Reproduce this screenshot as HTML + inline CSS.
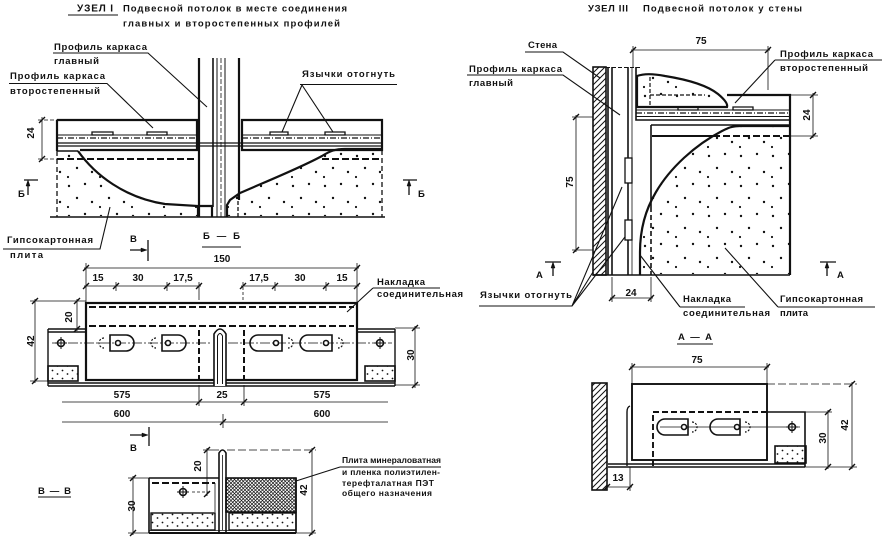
<!DOCTYPE html>
<html><head><meta charset="utf-8"><style>
html,body{margin:0;padding:0;background:#fff;}
svg{display:block;}
text{font-family:"Liberation Sans","DejaVu Sans",sans-serif;font-weight:bold;font-size:9.5px;fill:#111;}
.n{font-size:10px;}
.s{font-size:8.5px;}
</style></head><body>
<svg width="882" height="538" viewBox="0 0 882 538" xmlns="http://www.w3.org/2000/svg">
<defs>
<pattern id="dots" patternUnits="userSpaceOnUse" width="32" height="30">
<circle cx="5" cy="6" r="1.2" fill="#111"/><circle cx="21" cy="4" r="1.2" fill="#111"/>
<circle cx="13" cy="18" r="1.2" fill="#111"/><circle cx="28" cy="22" r="1.2" fill="#111"/>
<circle cx="4" cy="27" r="1.1" fill="#111"/>
</pattern>
<pattern id="dots2" patternUnits="userSpaceOnUse" width="10" height="8">
<circle cx="2.5" cy="2.5" r="0.9" fill="#111"/><circle cx="7.5" cy="6" r="0.9" fill="#111"/>
</pattern>
<pattern id="hatch" patternUnits="userSpaceOnUse" width="6" height="6">
<path d="M0,6 L6,0 M-1,1 L1,-1 M5,7 L7,5" stroke="#111" stroke-width="1"/>
</pattern>
<pattern id="cross" patternUnits="userSpaceOnUse" width="3.5" height="3.5">
<path d="M0,3.5 L3.5,0 M0,0 L3.5,3.5" stroke="#111" stroke-width="0.7"/>
</pattern>
</defs>
<rect width="882" height="538" fill="#fff"/>

<!-- ================= TEXT ================= -->
<text x="77" y="11.5" textLength="36" style="font-size:10px">УЗЕЛ I</text>
<text x="123" y="11.5" textLength="224">Подвесной потолок в месте соединения</text>
<text x="123" y="26.5" textLength="217">главных и второстепенных профилей</text>
<text x="54" y="50" textLength="93">Профиль каркаса</text>
<text x="54" y="64" textLength="45">главный</text>
<text x="10" y="79" textLength="95">Профиль каркаса</text>
<text x="10" y="94" textLength="90">второстепенный</text>
<text x="302" y="77" textLength="93">Язычки отогнуть</text>
<text x="18" y="197">Б</text>
<text x="418" y="197">Б</text>
<text x="7" y="243" textLength="86">Гипсокартонная</text>
<text x="10" y="258" textLength="33">плита</text>
<text x="130" y="242">В</text>
<text x="203" y="239" textLength="37">Б — Б</text>
<text x="377" y="285" textLength="48">Накладка</text>
<text x="377" y="297" textLength="86">соединительная</text>
<text class="n" x="222" y="262" text-anchor="middle">150</text>
<text class="n" x="98" y="281" text-anchor="middle">15</text>
<text class="n" x="138" y="281" text-anchor="middle">30</text>
<text class="n" x="183" y="281" text-anchor="middle">17,5</text>
<text class="n" x="259" y="281" text-anchor="middle">17,5</text>
<text class="n" x="300" y="281" text-anchor="middle">30</text>
<text class="n" x="342" y="281" text-anchor="middle">15</text>
<text class="n" transform="translate(34,341) rotate(-90)" text-anchor="middle">42</text>
<text class="n" transform="translate(72,317) rotate(-90)" text-anchor="middle">20</text>
<text class="n" transform="translate(414,355) rotate(-90)" text-anchor="middle">30</text>
<text class="n" transform="translate(34,133) rotate(-90)" text-anchor="middle">24</text>
<text class="n" x="122" y="398" text-anchor="middle">575</text>
<text class="n" x="222" y="398" text-anchor="middle">25</text>
<text class="n" x="322" y="398" text-anchor="middle">575</text>
<text class="n" x="122" y="417" text-anchor="middle">600</text>
<text class="n" x="322" y="417" text-anchor="middle">600</text>
<text x="130" y="451">В</text>
<text x="38" y="494" textLength="33">В — В</text>
<text class="n" transform="translate(201,466) rotate(-90)" text-anchor="middle">20</text>
<text class="n" transform="translate(135,506) rotate(-90)" text-anchor="middle">30</text>
<text class="n" transform="translate(307,490) rotate(-90)" text-anchor="middle">42</text>
<text class="s" x="342" y="463" textLength="99">Плита минераловатная</text>
<text class="s" x="342" y="475" textLength="98">и пленка полиэтилен-</text>
<text class="s" x="342" y="486" textLength="92">терефталатная ПЭТ</text>
<text class="s" x="342" y="496" textLength="90">общего назначения</text>

<text x="588" y="11.5" textLength="40">УЗЕЛ III</text>
<text x="643" y="11.5" textLength="159">Подвесной потолок  у стены</text>
<text x="528" y="48" textLength="29">Стена</text>
<text x="469" y="72" textLength="93">Профиль каркаса</text>
<text x="469" y="86" textLength="44">главный</text>
<text x="780" y="57" textLength="93">Профиль каркаса</text>
<text x="780" y="71" textLength="88">второстепенный</text>
<text class="n" x="701" y="44" text-anchor="middle">75</text>
<text class="n" transform="translate(810,115) rotate(-90)" text-anchor="middle">24</text>
<text class="n" transform="translate(573,182) rotate(-90)" text-anchor="middle">75</text>
<text x="536" y="278">А</text>
<text x="837" y="278">А</text>
<text class="n" x="631" y="296" text-anchor="middle">24</text>
<text x="480" y="298" textLength="92">Язычки отогнуть</text>
<text x="683" y="302" textLength="48">Накладка</text>
<text x="683" y="316" textLength="87">соединительная</text>
<text x="780" y="302" textLength="83">Гипсокартонная</text>
<text x="780" y="316" textLength="28">плита</text>
<text x="678" y="340" textLength="34">А — А</text>
<text class="n" x="697" y="363" text-anchor="middle">75</text>
<text class="n" transform="translate(826,438) rotate(-90)" text-anchor="middle">30</text>
<text class="n" transform="translate(848,425) rotate(-90)" text-anchor="middle">42</text>
<text class="n" x="618" y="481" text-anchor="middle">13</text>

<g stroke="#111" fill="none">
<!-- underlines & leaders -->
<g stroke-width="1.1">
<path d="M68,15 H118"/>
<path d="M53,53 H148 L207,107"/>
<path d="M9,83.5 H107 L153,128"/>
<path d="M300,84.5 H397 M302,85 L282,132 M302,85 L333,132"/>
<path d="M3,249 H100 L110,207"/>
<path d="M202,247 H241"/>
<path d="M373,288 H440 M373,288 L347,312"/>
<path d="M38,497 H71"/>
<path d="M340,467 H441 M340,467 L296,481"/>
<path d="M525,52 H563 L600,78"/>
<path d="M467,75 H563 L620,115"/>
<path d="M775,60 H882 M775,60 L735,103"/>
<path d="M479,306 H572 L622,187 M572,306 L628,233 M572,306 L593,272"/>
<path d="M680,307 H745 M680,307 L640,255"/>
<path d="M778,307 H875 M778,307 L725,248"/>
<path d="M677,344 H713"/>
</g>

<!-- ========== УЗЕЛ I drawing ========== -->
<path d="M58,152 H78 C95,175 125,198 165,204 L197,206 V216 H58 Z" fill="url(#dots)" stroke="none"/>
<path d="M228,216 V205 L240,193 C265,182 300,168 322,156 C330,151 335,149 345,149 H381 V216 Z" fill="url(#dots)" stroke="none"/>
<path d="M199,58 V217 M239,58 V200" stroke-width="2.2"/>
<path d="M213,58 V207" stroke-width="1.6"/>
<path d="M217,58 V217 M225,58 V217" stroke-width="1"/>
<path d="M221,58 V217" stroke-width="0.8" stroke-dasharray="5,2"/>
<path d="M57,120 H197 V150 H80 M57,120 V151" stroke-width="2.2"/>
<path d="M242,120 H382 V150 H242 Z" stroke-width="2.2"/>
<path d="M57,135 H197 M242,135 H382" stroke-width="1"/>
<path d="M57,138 H197 M242,138 H382" stroke-width="1.2" stroke-dasharray="6,2,1,2"/>
<path d="M57,143 H382 M57,146 H382" stroke-width="1.3"/>
<path d="M92,132 H113 V135 H92 Z M147,132 H167 V135 H147 Z M270,132 H288 V135 H270 Z M325,132 H345 V135 H325 Z" stroke-width="1.3" fill="#fff"/>
<path d="M57,159 H197 M322,159 H382" stroke-width="2" stroke-dasharray="7,3"/>
<path d="M57,151 V217 M382,150 V217" stroke-width="1.3" stroke-dasharray="5,3"/>
<path d="M50,217 H385" stroke-width="1.6"/>
<path d="M57,151 H78" stroke-width="1.6"/>
<path d="M78,151 C95,175 125,198 165,204 L198,206 V217 M198,206 H212 V217" stroke-width="2.2"/>
<path d="M227,217 V205 L230,200 L240,193 C265,182 300,168 322,156 C330,151 335,149 345,149 H382" stroke-width="2.2"/>
<path d="M238,195 V217" stroke-width="1.3" stroke-dasharray="4,2"/>
<!-- dim 24 -->
<path d="M42,117 V161" stroke-width="0.8"/>
<path d="M38,120 H57 M38,159 H57" stroke-width="0.7" stroke-dasharray="4,2"/>
<!-- section marks Б -->
<path d="M24,180 H38 M28,195 V183 M403,180 H417 M409,195 V183" stroke-width="1.3"/>
<path d="M28,180 L26,186 L30,186 Z M409,180 L407,186 L411,186 Z" fill="#111" stroke-width="0.5"/>
<!-- В marks -->
<path d="M130,250 H142 M148,240 V261 M130,435 H143 M149,427 V446" stroke-width="1.3"/>
<path d="M147,250 L141,248 L141,252 Z M148,435 L142,433 L142,437 Z" fill="#111" stroke-width="0.5"/>

<!-- ========== Накладка plan ========== -->
<g stroke-width="0.8">
<path d="M84,268 H359 M86,263 V303 M357,263 V303"/>
<path d="M84,286 H201 M241,286 H359"/>
<path d="M116,282 V291 M167,282 V291 M199,282 V300 M275,282 V291 M326,282 V291"/>
<path d="M243,282 V300" stroke-dasharray="3,2"/>
<path d="M35,299 V383 M30,301 H86 M30,381 H48"/>
<path d="M77,299 V331"/>
<path d="M415,326 V388 M395,328 H420 M395,385 H420"/>
<path d="M62,402 H388 M199,385 V406 M244,385 V406"/>
<path d="M62,422 H388 M223,414 V428"/>
</g>
<rect x="86" y="303" width="271" height="77" stroke-width="2.2"/>
<path d="M89,307 H354 M89,326 H354" stroke-width="2.1" stroke-dasharray="7,3"/>
<path d="M48,329 H86 M357,329 H395 M48,332 H86 M357,332 H395" stroke-width="1.4"/>
<path d="M48,383 H395 M48,386 H395 M48,329 V386 M395,329 V386" stroke-width="1.4"/>
<path d="M199,330 V383 M244,330 V383" stroke-width="2" stroke-dasharray="6,3"/>
<path d="M214,386 V334 Q220,324 226,334 V386" stroke-width="1.6" fill="#fff"/>
<path d="M217.5,384 V336 Q220,331 222.5,336 V384" stroke-width="1"/>
<path d="M52,343 H212 M228,343 H392" stroke-width="0.7" stroke-dasharray="10,2,2,2"/>
<path d="M110,335 H126 A8,8 0 0 1 126,351 H110 Z M162,335 H178 A8,8 0 0 1 178,351 H162 Z" stroke-width="1.6"/>
<path d="M282,335 H258 A8,8 0 0 0 258,351 H282 Z M332,335 H308 A8,8 0 0 0 308,351 H332 Z" stroke-width="1.6"/>
<path d="M104,338 A5,5 0 0 0 104,348 M156,338 A5,5 0 0 0 156,348 M288,338 A5,5 0 0 1 288,348 M338,338 A5,5 0 0 1 338,348" stroke-width="1.2" stroke-dasharray="2,1.5"/>
<circle cx="118" cy="343" r="2.5" stroke-width="1.6" fill="#fff"/>
<circle cx="168" cy="343" r="2.5" stroke-width="1.6" fill="#fff"/>
<circle cx="276" cy="343" r="2.5" stroke-width="1.6" fill="#fff"/>
<circle cx="326" cy="343" r="2.5" stroke-width="1.6" fill="#fff"/>
<circle cx="61" cy="343" r="3.5" stroke-width="1.6" fill="#fff"/>
<circle cx="380" cy="343" r="3.5" stroke-width="1.6" fill="#fff"/>
<path d="M55,343 H67 M61,337 V349 M374,343 H386 M380,337 V349" stroke-width="1"/>
<rect x="48" y="366" width="30" height="15" fill="url(#dots2)" stroke-width="1.6"/>
<rect x="365" y="366" width="30" height="15" fill="url(#dots2)" stroke-width="1.6"/>

<!-- ========== В-В ========== -->
<rect x="226" y="478" width="70" height="34" fill="url(#cross)" stroke-width="1.6"/>
<rect x="151" y="513" width="64" height="17" fill="url(#dots2)" stroke-width="1.4"/>
<rect x="229" y="513" width="67" height="17" fill="url(#dots2)" stroke-width="1.4"/>
<path d="M219,533 V453 Q222.5,447 226,453 V533" stroke-width="1.6"/>
<path d="M222.5,455 V530" stroke-width="0.8"/>
<path d="M149,478 H219 M149,478 V533 M296,478 V533" stroke-width="1.6"/>
<path d="M152,483 H215" stroke-width="1.9" stroke-dasharray="7,3"/>
<path d="M215,483 V512" stroke-width="0.8"/>
<path d="M149,533 H296" stroke-width="1.9"/>
<path d="M149,530.5 H296" stroke-width="0.8"/>
<circle cx="183" cy="492" r="3.5" stroke-width="1.6" fill="#fff"/>
<path d="M177,492 H189 M183,486 V498" stroke-width="1"/>
<path d="M192,492 H212" stroke-width="0.8" stroke-dasharray="3,2"/>
<g stroke-width="0.8">
<path d="M133,476 V535 M128,478 H149 M128,533 H149"/>
<path d="M207,448 V496 M203,450 H219"/>
<path d="M312,448 V535 M296,533 H316"/>
<path d="M227,450 H316" stroke-dasharray="8,3"/>
</g>

<!-- ========== УЗЕЛ III ========== -->
<path d="M641,274 V252 C640,232 644,212 656,192 C670,168 695,145 722,131 C728,128 732,126 740,126 H789 V274 Z" fill="url(#dots)" stroke="none"/>
<rect x="593" y="67" width="13" height="208" fill="url(#hatch)" stroke-width="1.6"/>
<path d="M608,67 V275 M612,67 V275" stroke-width="1.6"/>
<path d="M628,67 V275" stroke-width="1.6"/>
<path d="M632,67 V275" stroke-width="0.8"/>
<path d="M636,67 V120 H790" stroke-width="1.6"/>
<path d="M606,67.5 H640" stroke-width="1" stroke-dasharray="4,2"/>
<path d="M727,95 H790 V275" stroke-width="2.2"/>
<path d="M636,110 H790" stroke-width="1"/>
<path d="M636,113 H790" stroke-width="1.2" stroke-dasharray="6,2,1,2"/>
<path d="M636,116.5 H790" stroke-width="1"/>
<path d="M651,125 H790 M651,125 V207" stroke-width="1.6"/>
<path d="M651,207 V275" stroke-width="1.6" stroke-dasharray="5,3"/>
<path d="M652,136 H713" stroke-width="2"/>
<path d="M713,136 H790" stroke-width="2" stroke-dasharray="7,3"/>
<path d="M678,107 H698 V110 H678 Z M733,107 H753 V110 H733 Z" stroke-width="1.3" fill="#fff"/>
<path d="M637,107 V76 C645,73 655,74 665,76 C690,80 708,86 718,94 C724,99 728,104 727,107 Z" fill="#fff" stroke="none"/>
<path d="M637,107 V76 C645,73 655,74 665,76 C690,80 708,86 718,94 C724,99 728,104 727,107 Z" fill="url(#dots)" stroke-width="2.2"/>
<path d="M650,95 H705 M650,77 V107" stroke-width="1.2" stroke-dasharray="4,2"/>
<rect x="625" y="158" width="7" height="25" fill="#fff" stroke-width="1.3"/>
<rect x="625" y="220" width="7" height="20" fill="#fff" stroke-width="1.3"/>
<path d="M640,275 V252 C640,232 644,212 656,192 C670,168 695,145 722,131 C728,128 732,126 740,126 H790" stroke-width="2.2"/>
<path d="M593,275 H790" stroke-width="1.6"/>
<g stroke-width="0.8">
<path d="M631,50 H770 M633,46 V67 M768,46 V90"/>
<path d="M813,93 V138 M790,95 H818 M790,136 H818"/>
<path d="M576,115 V252 M572,117 H593 M572,250 H593"/>
<path d="M610,298 H653 M612,277 V302 M651,277 V302"/>
</g>
<path d="M545,262 H561 M553,276 V265 M820,262 H836 M827,276 V265" stroke-width="1.3"/>
<path d="M553,262 L551,268 L555,268 Z M827,262 L825,268 L829,268 Z" fill="#111" stroke-width="0.5"/>

<!-- ========== А-А ========== -->
<rect x="592" y="383" width="15" height="107" fill="url(#hatch)" stroke-width="1.6"/>
<rect x="632" y="384" width="135" height="76" stroke-width="1.9"/>
<path d="M627,466 V412 Q627,407 630,406" stroke-width="1.4"/>
<path d="M608,464 H805 M608,467 H805" stroke-width="1.4"/>
<path d="M653,466 V412 H767" stroke-width="1.9" stroke-dasharray="6,3"/>
<path d="M767,412 H805 V467" stroke-width="1.6"/>
<path d="M660,427 H800" stroke-width="0.7"/>
<path d="M688,419 H665 A8,8 0 0 0 665,435 H688 Z M740,419 H718 A8,8 0 0 0 718,435 H740 Z" stroke-width="1.6"/>
<path d="M692,422 A5,5 0 0 1 692,432 M745,422 A5,5 0 0 1 745,432" stroke-width="1.2" stroke-dasharray="2,1.5"/>
<circle cx="684" cy="427" r="2.5" stroke-width="1.6" fill="#fff"/>
<circle cx="737" cy="427" r="2.5" stroke-width="1.6" fill="#fff"/>
<circle cx="792" cy="427" r="3.5" stroke-width="1.6" fill="#fff"/>
<path d="M786,427 H798 M792,421 V433" stroke-width="1"/>
<rect x="775" y="446" width="31" height="17" fill="url(#dots2)" stroke-width="1.6"/>
<g stroke-width="0.8">
<path d="M630,367 H769 M632,363 V384 M767,363 V384"/>
<path d="M828,410 V469 M805,412 H832 M805,467 H832"/>
<path d="M852,382 V469 M832,467 H857"/>
<path d="M767,384 H857" stroke-dasharray="8,3"/>
<path d="M605,487 H632 M630,467 V491"/>
</g>

<!-- ticks -->
<path stroke-width="1.4" d="
M39,123 L45,117 M39,162 L45,156
M83,271 L89,265 M354,271 L360,265
M83,289 L89,283 M113,289 L119,283 M164,289 L170,283 M196,289 L202,283 M240,289 L246,283 M272,289 L278,283 M323,289 L329,283 M354,289 L360,283
M32,304 L38,298 M32,384 L38,378 M74,304 L80,298 M74,332 L80,326
M412,331 L418,325 M412,388 L418,382
M196,405 L202,399 M241,405 L247,399 M220,425 L226,419
M130,481 L136,475 M130,536 L136,530 M204,453 L210,447 M204,497 L210,491 M309,453 L315,447 M309,536 L315,530
M630,53 L636,47 M765,53 L771,47 M810,98 L816,92 M810,139 L816,133
M573,120 L579,114 M573,253 L579,247 M609,301 L615,295 M648,301 L654,295
M629,370 L635,364 M764,370 L770,364 M825,415 L831,409 M825,470 L831,464
M849,387 L855,381 M849,470 L855,464 M604,490 L610,484 M627,490 L633,484"/>
</g>
</svg>
</body></html>
